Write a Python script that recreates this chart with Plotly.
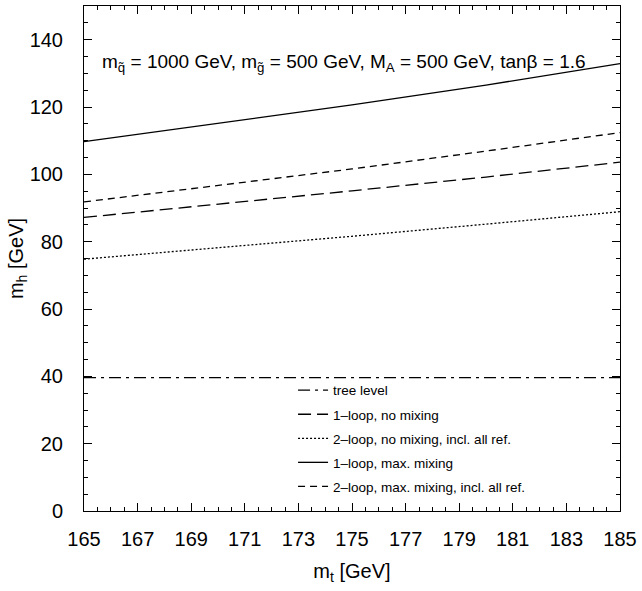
import plotly.graph_objects as go

mt = [165, 170, 175, 180, 185]
tree_level = [39.6, 39.6, 39.6, 39.6, 39.6]
one_loop_nomix = [87.2, 91.1, 95.1, 99.2, 103.6]
two_loop_nomix = [74.8, 78.1, 81.6, 85.2, 88.9]
one_loop_maxmix = [109.7, 115.1, 120.6, 126.5, 132.9]
two_loop_maxmix = [91.8, 96.6, 101.6, 106.9, 112.4]

names = ["tree level", "1\u2013loop, no mixing", "2\u2013loop, no mixing, incl. all ref.",
         "1\u2013loop, max. mixing", "2\u2013loop, max. mixing, incl. all ref."]
series = [tree_level, one_loop_nomix, two_loop_nomix, one_loop_maxmix, two_loop_maxmix]
dashes = ["12px,5px,3px,5px", "13px,6px", "2px,2px", "solid", "7px,5px"]

FONT = "Liberation Sans, Arial, sans-serif"

fig = go.Figure()
for i, (n, s, d) in enumerate(zip(names, series, dashes)):
    fig.add_trace(go.Scatter(x=mt, y=s, mode="lines", name=n, legendgroup=str(i),
                             line=dict(color="black", width=1.3, dash=d)))

fig.update_layout(
    width=642, height=591,
    margin=dict(l=84, r=18, t=5, b=80),
    plot_bgcolor="white", paper_bgcolor="white",
    font=dict(family=FONT, color="black"),
    showlegend=True,
    legend=dict(x=0.39, y=0.018, xanchor="left", yanchor="bottom",
                bgcolor="rgba(0,0,0,0)", font=dict(size=13.5, family=FONT),
                traceorder="grouped", tracegroupgap=3.5, itemwidth=30),
    annotations=[dict(
        text="m<sub>q\u0303</sub> = 1000 GeV, m<sub>g\u0303</sub> = 500 GeV, M<sub>A</sub> = 500 GeV, tan\u03b2 = 1.6",
        x=0.03, y=0.887, xref="paper", yref="paper", xanchor="left", yanchor="middle",
        showarrow=False, font=dict(size=19, family=FONT))],
)
fig.update_xaxes(range=[165, 185], tickvals=list(range(165, 186, 2)),
                 ticks="inside", ticklen=8, tickwidth=1, tickcolor="black",
                 minor=dict(dtick=0.5, ticks="inside", ticklen=4, tickcolor="black"),
                 showline=True, linecolor="black", linewidth=1, mirror="allticks",
                 showgrid=False, zeroline=False, ticklabelstandoff=10,
                 tickfont=dict(size=20, family=FONT),
                 title=dict(text="m<sub>t</sub> [GeV]", font=dict(size=20, family=FONT), standoff=14))
fig.update_yaxes(range=[0, 150], tickvals=list(range(0, 141, 20)),
                 ticks="inside", ticklen=8, tickwidth=1, tickcolor="black",
                 minor=dict(dtick=5, ticks="inside", ticklen=4, tickcolor="black"),
                 showline=True, linecolor="black", linewidth=1, mirror="allticks",
                 showgrid=False, zeroline=False, ticklabelstandoff=16,
                 tickfont=dict(size=20, family=FONT),
                 title=dict(text="m<sub>h</sub> [GeV]", font=dict(size=20, family=FONT), standoff=0))

fig.write_html("out.html")
